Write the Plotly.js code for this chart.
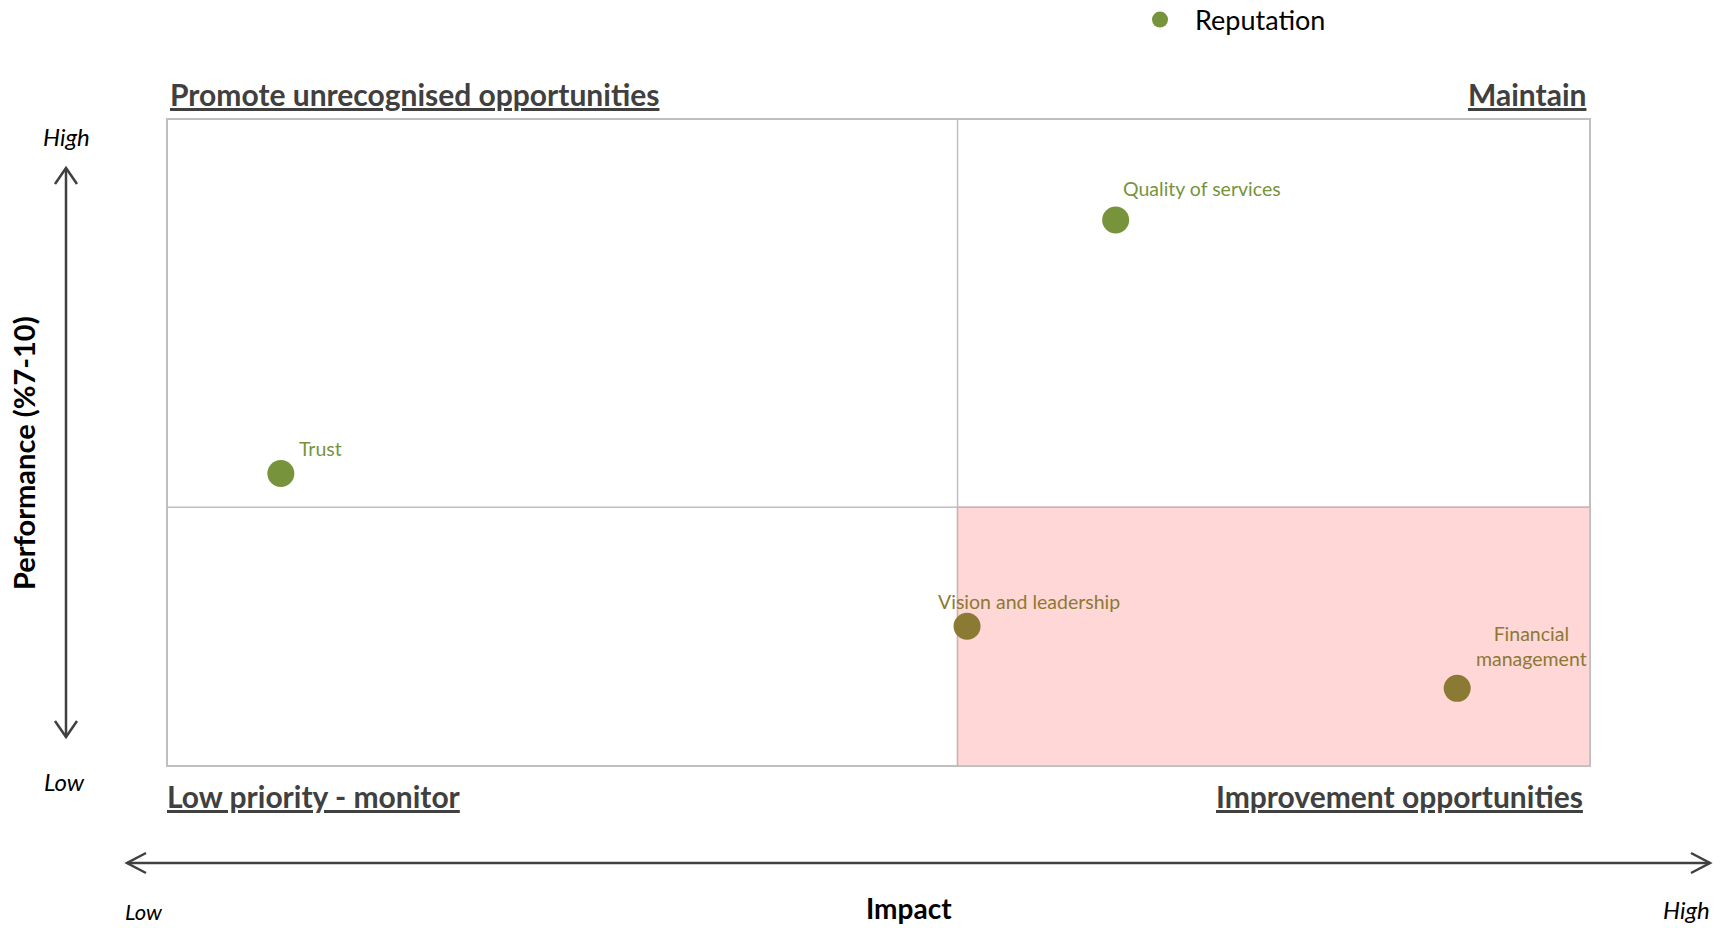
<!DOCTYPE html>
<html>
<head>
<meta charset="utf-8">
<script src="https://cdn.plot.ly/plotly-3.0.1.min.js"></script>
<style>html,body{margin:0;padding:0;background:#fff;}#chart{width:1728px;height:928px;}</style>
</head>
<body>
<div id="chart"></div>
<script>
// ---- data ----
const drivers = ['Trust', 'Quality of services', 'Vision and leadership', 'Financial<br>management'];
const impact = [0.036, 0.300, 0.253, 0.408];
const performance = [72.6, 92.2, 60.8, 56.0];
const seriesName = 'Reputation';
const impactRange = [0, 0.45];
const performanceRange = [50, 100];
const impactThreshold = 0.25;
const performanceThreshold = 70;
const quadrantTitles = ['Promote unrecognised opportunities', 'Maintain', 'Low priority - monitor', 'Improvement opportunities'];
const xTitle = 'Impact';
const yTitle = 'Performance (%7-10)';

// ---- styles ----
const GREEN = '#77933C', OLIVE = '#8B7A34', DARK = '#404040', GRID = '#BFBFBF';
const pointColors = [GREEN, GREEN, OLIVE, OLIVE];
const labelShift = [[40, 25], [86, 31], [62, 25], [74, 42]];
const FONT = 'Lato, "Open Sans", sans-serif';

const L = 167, R = 1590, T = 119, B = 766, W = 1728, H = 928;
const px = x => (x - L) / (R - L);
const py = y => (B - y) / (B - T);

const trace = {
  type: 'scatter', mode: 'markers', name: seriesName,
  x: impact, y: performance,
  marker: {size: 27, color: pointColors},
  showlegend: true, hoverinfo: 'text', text: drivers
};

const annotations = drivers.map((d, i) => ({
  x: impact[i], y: performance[i], xref: 'x', yref: 'y',
  text: d, showarrow: false, xshift: labelShift[i][0], yshift: labelShift[i][1],
  xanchor: 'center', yanchor: 'middle',
  font: {family: FONT, size: 19.5, color: pointColors[i]}, align: 'center'
}));

const qFont = {family: FONT, size: 30, color: DARK};
const q = (x, y, xa, t) => ({xref: 'paper', yref: 'paper', x: px(x), y: py(y), xanchor: xa, yanchor: 'middle',
  showarrow: false, text: '<b><u>' + t + '</u></b>', font: qFont});
annotations.push(
  q(168, 94, 'left', quadrantTitles[0]),
  q(1588, 94, 'right', quadrantTitles[1]),
  q(165, 796, 'left', quadrantTitles[2]),
  q(1585, 796, 'right', quadrantTitles[3])
);
const it = (x, y, t, s) => ({xref: 'paper', yref: 'paper', x: px(x), y: py(y), xanchor: 'center', yanchor: 'middle',
  showarrow: false, text: '<i>' + t + '</i>', font: {family: FONT, size: s, color: '#000'}});
annotations.push(
  it(66, 136, 'High', 24),
  it(65, 781, 'Low', 24),
  it(144, 912, 'Low', 22),
  it(1686, 909, 'High', 24)
);
// axis titles
annotations.push(
  {xref: 'paper', yref: 'paper', x: px(909), y: py(908), xanchor: 'center', yanchor: 'middle', showarrow: false,
   text: '<b>' + xTitle + '</b>', font: {family: FONT, size: 28, color: '#000'}},
  {xref: 'paper', yref: 'paper', x: px(24), y: py(453), xanchor: 'center', yanchor: 'middle', showarrow: false, textangle: -90,
   text: '<b>' + yTitle + '</b>', font: {family: FONT, size: 29, color: '#000'}}
);

const arrowLine = {color: DARK, width: 2.5};
const shapes = [
  // quadrant highlight
  {type: 'rect', xref: 'x', yref: 'y', x0: impactThreshold, x1: impactRange[1], y0: performanceRange[0], y1: performanceThreshold,
   fillcolor: '#FFD7D7', line: {color: '#D6AFAF', width: 1.5}, layer: 'below'},
  // box
  {type: 'rect', xref: 'paper', yref: 'paper', x0: 0, x1: 1, y0: 0, y1: 1, line: {color: GRID, width: 2}, layer: 'below'},
  // dividers
  {type: 'line', xref: 'x', yref: 'paper', x0: impactThreshold, x1: impactThreshold, y0: 0, y1: 1, line: {color: GRID, width: 1.5}, layer: 'below'},
  {type: 'line', xref: 'paper', yref: 'y', x0: 0, x1: 1, y0: performanceThreshold, y1: performanceThreshold, line: {color: GRID, width: 1.5}, layer: 'below'},
  // vertical arrow
  {type: 'line', xref: 'paper', yref: 'paper', x0: px(66), x1: px(66), y0: py(168), y1: py(737), line: arrowLine},
  {type: 'path', xref: 'paper', yref: 'paper', path: `M${px(55)},${py(184)} L${px(66)},${py(168)} L${px(77)},${py(184)}`, line: arrowLine},
  {type: 'path', xref: 'paper', yref: 'paper', path: `M${px(55)},${py(721)} L${px(66)},${py(737)} L${px(77)},${py(721)}`, line: arrowLine},
  // horizontal arrow
  {type: 'line', xref: 'paper', yref: 'paper', x0: px(127), x1: px(1710), y0: py(863), y1: py(863), line: arrowLine},
  {type: 'path', xref: 'paper', yref: 'paper', path: `M${px(146)},${py(853)} L${px(127)},${py(863)} L${px(146)},${py(873)}`, line: arrowLine},
  {type: 'path', xref: 'paper', yref: 'paper', path: `M${px(1691)},${py(853)} L${px(1710)},${py(863)} L${px(1691)},${py(873)}`, line: arrowLine}
];

const layout = {
  width: W, height: H,
  margin: {l: L, r: W - R, t: T, b: H - B, autoexpand: false},
  paper_bgcolor: '#fff', plot_bgcolor: 'rgba(0,0,0,0)',
  font: {family: FONT, color: '#000'},
  xaxis: {range: impactRange, showgrid: false, zeroline: false, showline: false, showticklabels: false, ticks: '', fixedrange: true, automargin: false},
  yaxis: {range: performanceRange, showgrid: false, zeroline: false, showline: false, showticklabels: false, ticks: '', fixedrange: true, automargin: false},
  showlegend: true,
  legend: {x: px(1125), y: py(20), xanchor: 'left', yanchor: 'middle', bgcolor: 'rgba(0,0,0,0)',
           font: {family: FONT, size: 27, color: '#000'}, itemsizing: 'trace', itemwidth: 60},
  shapes: shapes,
  annotations: annotations
};

Plotly.newPlot('chart', [trace], layout, {displayModeBar: false, staticPlot: true});
</script>
</body>
</html>
